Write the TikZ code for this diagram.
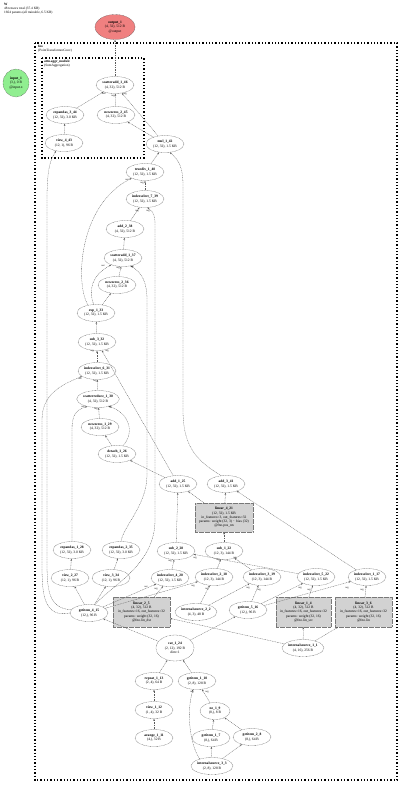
\documentclass[tikz,border=0pt]{standalone}
\usepackage{fontspec}
\setmainfont{Liberation Serif}
\usetikzlibrary{shapes.geometric,arrows.meta}
\definecolor{outc}{RGB}{240,128,128}
\definecolor{inc}{RGB}{144,238,144}
\definecolor{linc}{RGB}{210,210,210}
\definecolor{ec}{RGB}{90,90,90}
\definecolor{bc}{RGB}{120,120,120}
\begin{document}
\begin{tikzpicture}[x=1pt,y=-1pt,
  every node/.style={font=\fontsize{3.6}{4.3}\selectfont},
  op/.style={ellipse, draw=ec, dash pattern=on 0.8pt off 0.6pt, line width=0.3pt, fill=white, minimum width=38pt, minimum height=17pt, inner sep=0.2pt, align=center},
  lin/.style={rectangle, draw=bc, dash pattern=on 0.6pt off 0.6pt, line width=0.25pt, fill=linc, minimum width=57pt, minimum height=30pt, inner sep=0.5pt, align=center},
  edge/.style={draw=ec, line width=0.3pt, dash pattern=on 1pt off 0.7pt, -{Stealth[length=2.2pt,width=1.6pt]}},
  cluster/.style={draw=black, dotted, line width=1.3pt},
  clabel/.style={anchor=north west, align=left, inner sep=0pt, font=\fontsize{3.4}{4}\selectfont},
  lbl/.style={font=\fontsize{2.5}{3}\selectfont, inner sep=0.2pt}]
\useasboundingbox (0,0) rectangle (400,785);

% header
\node[anchor=north west, align=left, inner sep=0pt, font=\fontsize{3.4}{4.1}\selectfont] (hdr) at (4,3) {\textbf{W}\\48 tensors total (37.4 KB)\\1664 params (all trainable, 6.5 KB)};

% clusters
\draw[cluster] (35,43) rectangle (397,780);
\node[clabel] (fnolbl) at (38,45) {\textbf{fno}\\(PointTransformerConv)};
\draw[cluster] (42,58) rectangle (144,158);
\node[clabel] (attnlbl) at (44,60) {\textbf{attn.aggr\_module}\\(SumAggregation)};

% input / output
\node[op, fill=outc, minimum width=40pt, minimum height=25pt] (out1) at (115,27) {\textbf{output\_1}\\(4, 32), 512 B\\@output};
\node[op, fill=inc, minimum width=26pt, minimum height=28pt] (in1) at (16,83) {\textbf{input\_1}\\(3,), 0 B\\@input.x};

% aggr module
\node[op] (sa46) at (115,85) {\textbf{scatteradd\_1\_46}\\(4, 32), 512 B};
\node[op] (ea44) at (65,115) {\textbf{expandas\_3\_44}\\(12, 32), 3.0 KB};
\node[op] (nz45) at (116,115) {\textbf{newzeros\_2\_45}\\(4, 32), 512 B};
\node[op] (vw43) at (64,143) {\textbf{view\_4\_43}\\(12, 1), 96 B};

% main chain
\node[op] (mu42) at (165,144) {\textbf{mul\_1\_42}\\(12, 32), 1.5 KB};
\node[op] (td40) at (145,172) {\textbf{truediv\_1\_40}\\(12, 32), 1.5 KB};
\node[op] (is39) at (145,199) {\textbf{indexselect\_7\_39}\\(12, 32), 1.5 KB};
\node[op] (ad38) at (125,229) {\textbf{add\_2\_38}\\(4, 32), 512 B};
\node[op] (sa37) at (123,258) {\textbf{scatteradd\_1\_37}\\(4, 32), 512 B};
\node[op] (nz36) at (117,285) {\textbf{newzeros\_2\_36}\\(4, 32), 512 B};
\node[op] (ex33) at (96,313) {\textbf{exp\_1\_33}\\(12, 32), 1.5 KB};
\node[op] (sb32) at (97,342) {\textbf{sub\_3\_32}\\(12, 32), 1.5 KB};
\node[op] (is31) at (97,371) {\textbf{indexselect\_6\_31}\\(12, 32), 1.5 KB};
\node[op] (sr30) at (98,399) {\textbf{scatterreduce\_1\_30}\\(4, 32), 512 B};
\node[op] (nz29) at (100,427) {\textbf{newzeros\_1\_29}\\(4, 32), 512 B};
\node[op] (dt26) at (117,454) {\textbf{detach\_1\_26}\\(12, 32), 1.5 KB};
\node[op] (ad25) at (178,484) {\textbf{add\_1\_25}\\(12, 32), 1.5 KB};
\node[op] (ad41) at (226,484) {\textbf{add\_3\_41}\\(12, 32), 1.5 KB};
\node[lin, minimum width=58pt, minimum height=29pt] (li21) at (224,517.5) {\textbf{linear\_4\_21}\\(12, 32), 1.5 KB\\in\_features=3, out\_features=32\\params: weight (32, 3) $\cdot$ bias (32)\\@fno.pos\_nn};

\node[op] (ea28) at (72,550) {\textbf{expandas\_1\_28}\\(12, 32), 3.0 KB};
\node[op] (ea35) at (121,550) {\textbf{expandas\_2\_35}\\(12, 32), 3.0 KB};
\node[op] (sb28) at (176,551) {\textbf{sub\_2\_28}\\(12, 32), 1.5 KB};
\node[op] (sb22) at (224,551) {\textbf{sub\_1\_22}\\(12, 3), 144 B};

\node[op] (vw27) at (70,578) {\textbf{view\_2\_27}\\(12, 1), 96 B};
\node[op] (vw34) at (111,578) {\textbf{view\_3\_34}\\(12, 1), 96 B};
\node[op] (is20) at (170,578) {\textbf{indexselect\_4\_20}\\(12, 32), 1.5 KB};
\node[op] (is18) at (214,577) {\textbf{indexselect\_2\_18}\\(12, 3), 144 B};
\node[op] (is19) at (262,577) {\textbf{indexselect\_3\_19}\\(12, 3), 144 B};
\node[op] (is22) at (316,577) {\textbf{indexselect\_5\_22}\\(12, 32), 1.5 KB};
\node[op] (is17) at (367,577) {\textbf{indexselect\_1\_17}\\(12, 32), 1.5 KB};

\node[op] (gi15) at (89,613) {\textbf{getitem\_4\_15}\\(12,), 96 B};
\node[lin] (li5) at (141.5,612) {\textbf{linear\_2\_5}\\(4, 32), 512 B\\in\_features=16, out\_features=32\\params: weight (32, 16)\\@fno.lin\_dst};
\node[op] (is2) at (196,612) {\textbf{internalsource\_2\_2}\\(4, 3), 48 B};
\node[op] (gi16) at (248,610) {\textbf{getitem\_5\_16}\\(12,), 96 B};
\node[lin, minimum width=55pt] (li4) at (303.5,612) {\textbf{linear\_1\_4}\\(4, 32), 512 B\\in\_features=16, out\_features=32\\params: weight (32, 16)\\@fno.lin\_src};
\node[lin] (li6) at (363.5,612) {\textbf{linear\_3\_6}\\(4, 32), 512 B\\in\_features=16, out\_features=32\\params: weight (32, 16)\\@fno.lin};
\node[op] (is1) at (303,648) {\textbf{internalsource\_1\_1}\\(4, 16), 256 B};

\node[op, minimum height=26pt] (ct24) at (175,648) {\textbf{cat\_1\_24}\\(2, 12), 192 B\\dim=1};
\node[op] (rp13) at (154,681) {\textbf{repeat\_1\_13}\\(2, 4), 64 B};
\node[op] (gi10) at (197,681) {\textbf{getitem\_1\_10}\\(2, 8), 128 B};
\node[op] (vw12) at (154,710) {\textbf{view\_1\_12}\\(1, 4), 32 B};
\node[op, minimum width=30pt] (ne9) at (215,711) {\textbf{ne\_1\_9}\\(8,), 8 B};
\node[op] (ar11) at (154,738) {\textbf{arange\_1\_11}\\(4,), 32 B};
\node[op] (gi7) at (211,738) {\textbf{getitem\_1\_7}\\(8,), 64 B};
\node[op] (gi8) at (252,737) {\textbf{getitem\_2\_8}\\(8,), 64 B};
\node[op] (is3) at (212,766) {\textbf{internalsource\_3\_3}\\(2, 8), 128 B};

% edges
\draw[edge] (sa46) -- (out1);
\draw[edge] (ea44) -- (sa46);
\draw[edge] (nz45) -- (sa46);
\draw[edge] (mu42) -- (sa46);
\draw[edge] (vw43) -- (ea44);
\draw[edge] (mu42) -- (nz45);
\draw[edge] (gi15.170) .. controls (48,608) and (47,590) .. (47,560) -- (47,200) .. controls (47,170) and (50,160) .. (vw43.-135);
\draw[edge] (td40) -- (mu42);
\draw[edge] (ad41.120) .. controls (195,460) and (183,445) .. (183,410) -- (183,185) .. controls (183,168) and (179,160) .. (mu42.-60);
\draw[edge] (is39) -- (td40);
\draw[edge] (ad38) -- (is39);
\draw[edge] (gi15.55) .. controls (112,585) and (155,565) .. (155,520) -- (155,225) .. controls (155,216) and (154,212) .. (is39.-75);
\draw[edge] (ex33.135) .. controls (75,285) and (78,205) .. (td40.205);
\draw[edge] (ex33.105) .. controls (88,290) and (92,275) .. (sa37.-150);
\draw[edge] (ex33) -- (nz36);
\draw[edge] (nz36) -- (sa37);
\draw[edge] (ea35.north) .. controls (124,525) and (147,505) .. (147,475) -- (147,300) .. controls (147,282) and (142,273) .. (sa37.-45);
\draw[edge] (sa37) -- (ad38);
\draw[edge] (sb32) -- (ex33);
\draw[edge] (is31) -- (sb32);
\draw[edge] (ad25) -- (sb32);
\draw[edge] (sr30) -- (is31);
\draw[edge] (gi15.180) .. controls (44,618) and (42,595) .. (42,565) -- (42,420) .. controls (42,395) and (60,385) .. (is31.-160);
\draw[edge] (nz29) -- (sr30);
\draw[edge] (dt26) -- (nz29);
\draw[edge] (dt26.55) .. controls (136,432) and (128,412) .. (sr30.-35);
\draw[edge] (ea28.north) -- (72,430) .. controls (72,416) and (75,410) .. (sr30.-145);
\draw[edge] (ad25) -- (dt26);
\draw[edge] (sb28) -- (ad25);
\draw[edge] (li21) -- (ad25);
\draw[edge] (li21) -- (ad41);
\draw[edge] (is17) -- (ad41);
\draw[edge] (sb22) -- (li21);
\draw[edge] (vw27) -- (ea28);
\draw[edge] (vw34) -- (ea35);
\draw[edge] (gi15) -- (vw27);
\draw[edge] (gi15) -- (vw34);
\draw[edge] (is20) -- (sb28);
\draw[edge] (is22) -- (sb28);
\draw[edge] (is18) -- (sb22);
\draw[edge] (is19) -- (sb22);
\draw[edge] (li5) -- (is20);
\draw[edge] (gi15) -- (is20);
\draw[edge] (gi15) -- (is18);
\draw[edge] (is2) -- (is18);
\draw[edge] (is2) -- (is19);
\draw[edge] (gi16) -- (is19);
\draw[edge] (gi16) -- (is22);
\draw[edge] (gi16) -- (is17);
\draw[edge] (li4) -- (is22);
\draw[edge] (li6) -- (is17);
\draw[edge] (is1) -- (li4);
\draw[edge] (is1) -- (li6);
\draw[edge] (is1) -- (li5);
\draw[edge] (ct24) -- (gi15);
\draw[edge] (ct24) -- (gi16);
\draw[edge] (rp13) -- (ct24);
\draw[edge] (gi10) -- (ct24);
\draw[edge] (vw12) -- (rp13);
\draw[edge] (ar11) -- (vw12);
\draw[edge] (ne9) -- (gi10);
\draw[edge] (gi7) -- (ne9);
\draw[edge] (gi8) -- (ne9);
\draw[edge] (is3) -- (gi7);
\draw[edge] (is3) -- (gi8);
\draw[edge] (is3.150) .. controls (190,745) and (186,712) .. (gi10.-115);

% edge labels near heads
\node[lbl] (l1) at (104,94) {out};
\node[lbl] (l2) at (113,96) {arg};
\node[lbl] (l3) at (125,94) {arg};
\node[lbl] (l4) at (127,180) {out};
\node[lbl] (l5) at (142,183) {arg};
\node[lbl] (l6) at (137,211) {arg};
\node[lbl] (l7) at (148,211) {arg};
\node[lbl] (l8) at (103,266) {out};
\node[lbl] (l9) at (118,268) {arg};
\node[lbl] (l10) at (132,267) {arg};
\node[lbl] (l11) at (92,351) {arg};
\node[lbl] (l12) at (107,351) {arg};
\node[lbl] (l13) at (80,379) {out};
\node[lbl] (l14) at (95,381) {arg};
\node[lbl] (l15) at (83,407) {out};
\node[lbl] (l16) at (96,409) {arg};
\node[lbl] (l17) at (110,407) {arg};
\node[lbl] (l18) at (170,561) {arg};
\node[lbl] (l19) at (195,558) {arg};
\node[lbl] (l20) at (218,560) {arg};
\node[lbl] (l21) at (235,558) {arg};
\node[lbl] (l22) at (146,587) {out};
\node[lbl] (l23) at (156,589) {arg};
\node[lbl] (l24) at (193,586) {arg};
\node[lbl] (l25) at (207,589) {arg};
\node[lbl] (l26) at (248,588) {arg};
\node[lbl] (l27) at (259,590) {arg};
\node[lbl] (l28) at (300,588) {arg};
\node[lbl] (l29) at (309,590) {arg};
\node[lbl] (l30) at (347,588) {arg};
\node[lbl] (l31) at (362,590) {arg};
\node[lbl] (l32) at (192,692) {arg};
\node[lbl] (l33) at (207,692) {arg};
\end{tikzpicture}
\end{document}
